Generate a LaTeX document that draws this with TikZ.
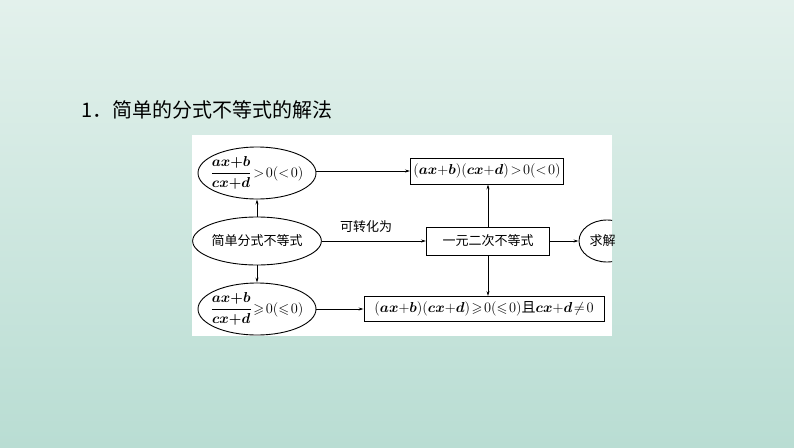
\documentclass[tikz,border=0pt]{standalone}
\usepackage{amsmath,amssymb}
\usepackage{fontspec}
\newfontfamily\cjk{Noto Sans CJK SC}
\usetikzlibrary{shapes.geometric,arrows.meta}
\definecolor{bgA}{HTML}{E3F1EC}
\definecolor{bgB}{HTML}{B9DDD3}
\tikzset{
  ell/.style={draw,ellipse,inner sep=0pt,line width=0.9pt,font=\fontsize{14}{16}\selectfont},
  bx/.style={draw,rectangle,inner sep=0pt,line width=0.9pt,font=\fontsize{14}{16}\selectfont},
  arr/.style={-{Stealth[length=5pt,width=3pt]},line width=0.8pt}
}
\begin{document}
\begin{tikzpicture}[x=1pt,y=-1pt]
\useasboundingbox (0,0) rectangle (794,447);
\shade[top color=bgA,bottom color=bgB] (0,0) rectangle (794,447);
\node[anchor=west,font=\fontsize{20}{24}\selectfont\cjk] (title) at (78,110) {1．简单的分式不等式的解法};
\fill[white] (192,135) rectangle (612,336);
\node[ell,inner xsep=-10pt,inner ysep=-4pt,minimum width=118pt,minimum height=52pt] (e1) at (257,173) {$\boldsymbol{\dfrac{ax{+}b}{cx{+}d}}\!>\!0(<\!0)$};
\node[ell,minimum width=122pt,minimum height=48pt,font=\fontsize{13}{15}\selectfont] (e2) at (257,241) {\cjk 简单分式不等式};
\node[ell,inner xsep=-10pt,inner ysep=-4pt,minimum width=118pt,minimum height=52pt] (e3) at (257,309) {$\boldsymbol{\dfrac{ax{+}b}{cx{+}d}}\!\geqslant\!0(\leqslant\!0)$};
\node[bx,minimum width=153pt,minimum height=26pt] (b1) at (487,171) {$(\boldsymbol{ax}{+}\boldsymbol{b})(\boldsymbol{cx}{+}\boldsymbol{d})\!>\!0(<\!0)$};
\node[bx,minimum width=123pt,minimum height=28pt,font=\fontsize{13}{15}\selectfont] (b2) at (488,241) {\cjk 一元二次不等式};
\node[bx,minimum width=240pt,minimum height=25pt] (b3) at (484,309) {$(\boldsymbol{ax}{+}\boldsymbol{b})(\boldsymbol{cx}{+}\boldsymbol{d})\!\geqslant\!0(\leqslant\!0)$\cjk 且$\boldsymbol{cx}{+}\boldsymbol{d}\!\neq\!0$};
\begin{scope}
\clip (192,135) rectangle (612,336);
\node[ell,minimum width=56pt,minimum height=42pt] (e4) at (607,241) {};
\end{scope}
\node[font=\fontsize{13}{15}\selectfont\cjk,anchor=west] (t4) at (586,241) {求解};
\node[font=\fontsize{13}{15}\selectfont\cjk] (lab) at (366,227) {可转化为};
\draw[arr] (e1.east|-b1) -- (b1);
\draw[arr] (e2) -- (b2);
\draw[arr] (e3.east|-b3) -- (b3);
\draw[arr] (e2) -- (e1);
\draw[arr] (e2) -- (e3);
\draw[arr] (b2.north) -- (b2.north|-b1.south);
\draw[arr] (b2.south) -- (b2.south|-b3.north);
\draw[arr] (b2) -- (e4);
\end{tikzpicture}
\end{document}
